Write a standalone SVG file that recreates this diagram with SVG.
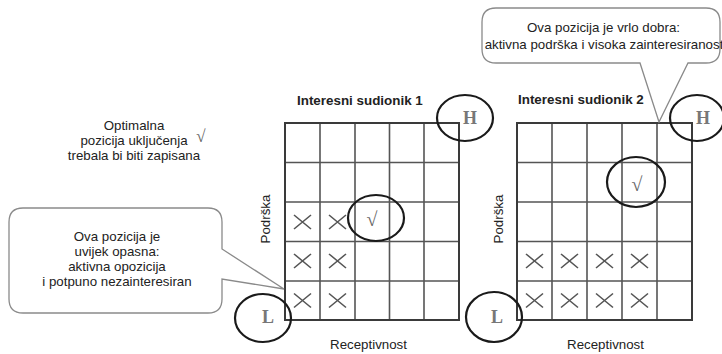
<svg xmlns="http://www.w3.org/2000/svg" xmlns:xlink="http://www.w3.org/1999/xlink" width="722" height="354" viewBox="0 0 722 354">
<defs>
<style>
.t{font-family:"Liberation Sans",Arial,sans-serif;font-size:13.3px;fill:#222}
.tb{font-family:"Liberation Sans",Arial,sans-serif;font-size:13.4px;font-weight:bold;fill:#222}
.c{text-anchor:middle}
.callout{fill:#fff;stroke:#8a8a8a;stroke-width:1.3}
.grid{fill:none;stroke:#555;stroke-width:1.6}
.border{fill:none;stroke:#3a3a3a;stroke-width:2}
.ring{fill:none;stroke:#1a1a1a;stroke-width:2.2}
.xm{fill:none;stroke:#555;stroke-width:1.6}
.chk{font-family:"Liberation Serif","DejaVu Serif",serif;font-size:20px;fill:#666;text-anchor:middle}
.hl{font-family:"Liberation Serif","Times New Roman",serif;font-size:18px;font-weight:bold;fill:#777;text-anchor:middle}
</style>
<path id="x" class="xm" d="M-8.5,-7 L8.5,7 M-8.5,7 L8.5,-7"/>
</defs>
<rect width="722" height="354" fill="#fff"/>

<g id="note-optimal">
<text class="t c" x="134" y="130">Optimalna</text>
<text class="t c" x="134" y="145">pozicija uključenja</text>
<text class="t c" x="134" y="160">trebala bi biti zapisana</text>
<text class="chk" x="201" y="142" style="font-size:17px">√</text>
</g>

<g id="grid1">
<text class="tb" x="297" y="105">Interesni sudionik 1</text>
<path class="grid" d="M320,123V320M355,123V320M389.5,123V320M424,123V320M285,162.5H459M285,202H459M285,241.5H459M285,281H459"/>
<rect class="border" x="285" y="123" width="174" height="197"/>
<use xlink:href="#x" x="302.5" y="222"/>
<use xlink:href="#x" x="337.5" y="222"/>
<use xlink:href="#x" x="302.5" y="261"/>
<use xlink:href="#x" x="337.5" y="261"/>
<use xlink:href="#x" x="302.5" y="300.5"/>
<use xlink:href="#x" x="337.5" y="300.5"/>
<text class="chk" x="372" y="226">√</text>
<text class="t c" x="368.5" y="349">Receptivnost</text>
<text class="t c" transform="translate(270,219) rotate(-90)">Podrška</text>
</g>

<g id="grid2">
<text class="tb" x="518" y="104">Interesni sudionik 2</text>
<path class="grid" d="M552,123V320M587,123V320M622,123V320M657,123V320M517,162.5H692M517,202H692M517,241.5H692M517,281H692"/>
<rect class="border" x="517" y="123" width="175" height="197"/>
<use xlink:href="#x" x="534.5" y="261"/>
<use xlink:href="#x" x="569.5" y="261"/>
<use xlink:href="#x" x="604.5" y="261"/>
<use xlink:href="#x" x="639.5" y="261"/>
<use xlink:href="#x" x="534.5" y="300.5"/>
<use xlink:href="#x" x="569.5" y="300.5"/>
<use xlink:href="#x" x="604.5" y="300.5"/>
<use xlink:href="#x" x="639.5" y="300.5"/>
<text class="chk" x="637" y="191">√</text>
<text class="t c" x="605.5" y="349">Receptivnost</text>
<text class="t c" transform="translate(503,219) rotate(-90)">Podrška</text>
</g>

<g id="callout-left">
<path class="callout" d="M23,208H208Q222,208 222,222V249L284,289L222,279V299Q222,313 208,313H23Q9,313 9,299V222Q9,208 23,208Z"/>
<text class="t c" x="117" y="241">Ova pozicija je</text>
<text class="t c" x="117" y="256">uvijek opasna:</text>
<text class="t c" x="117" y="271">aktivna opozicija</text>
<text class="t c" x="117" y="286">i potpuno nezainteresiran</text>
</g>

<g id="callout-right">
<path class="callout" d="M496,8H706Q720,8 720,22V49Q720,63 706,63H688L659,122L640,63H496Q482,63 482,49V22Q482,8 496,8Z"/>
<text class="t c" x="603.5" y="31.5">Ova pozicija je vrlo dobra:</text>
<text class="t c" x="604" y="49">aktivna podrška i visoka zainteresiranost</text>
</g>

<g id="rings">
<ellipse class="ring" cx="465" cy="118" rx="28" ry="23"/>
<text class="hl" x="470" y="124">H</text>
<ellipse class="ring" cx="697" cy="118" rx="27" ry="23"/>
<text class="hl" x="703" y="124">H</text>
<ellipse class="ring" cx="263" cy="318" rx="28" ry="24"/>
<text class="hl" x="268" y="323">L</text>
<ellipse class="ring" cx="494" cy="317" rx="28" ry="25"/>
<text class="hl" x="497" y="323">L</text>
<ellipse class="ring" cx="376" cy="218" rx="28" ry="23"/>
<ellipse class="ring" cx="636" cy="182" rx="29" ry="25"/>
</g>

<g id="connectors"/>
</svg>
